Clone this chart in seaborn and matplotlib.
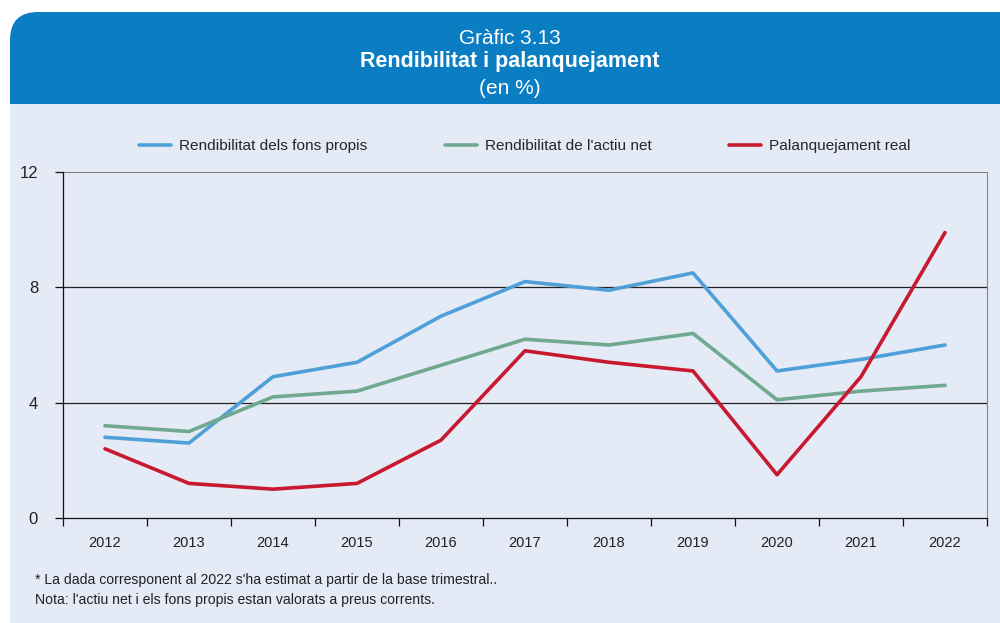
import numpy as np
import pandas as pd
import matplotlib
matplotlib.use('Agg')
from matplotlib import pyplot as plt
from matplotlib.patches import FancyBboxPatch, Rectangle
from matplotlib.lines import Line2D
from matplotlib.transforms import IdentityTransform
import seaborn as sns

# values (en %)
years = ['2012', '2013', '2014', '2015', '2016', '2017', '2018', '2019', '2020', '2021', '2022']
fons_propis = [2.8, 2.6, 4.9, 5.4, 7.0, 8.2, 7.9, 8.5, 5.1, 5.5, 6.0]
actiu_net = [3.2, 3.0, 4.2, 4.4, 5.3, 6.2, 6.0, 6.4, 4.1, 4.4, 4.6]
palanquejament = [2.4, 1.2, 1.0, 1.2, 2.7, 5.8, 5.4, 5.1, 1.5, 4.9, 9.9]

series_names = ['Rendibilitat dels fons propis', "Rendibilitat de l'actiu net", 'Palanquejament real']
colors = ['#4FA0D8', '#6FA98F', '#C8192F']

df = pd.DataFrame({'any': years * 3,
                   'valor': fons_propis + actiu_net + palanquejament,
                   'serie': [s for s in series_names for _ in years]})

sns.set_style('white')
plt.rcParams['font.family'] = ['Liberation Sans', 'DejaVu Sans']

bg = '#E4EAF6'
blue_head = '#0A7DC3'

fig = plt.figure(figsize=(10, 6.23), dpi=100)
fig.patch.set_facecolor('white')

# background panels (pixel coords, origin bottom-left)
H = 623
fig.patches.append(Rectangle((10, 0), 990, H - 104, transform=IdentityTransform(),
                             facecolor=bg, edgecolor='none', zorder=-2))
fig.patches.append(FancyBboxPatch((10, H - 104), 990, 92, boxstyle='round,pad=0,rounding_size=28',
                                  transform=IdentityTransform(), facecolor=blue_head,
                                  edgecolor='none', zorder=-1))
# square off the other corners
fig.patches.append(Rectangle((10, H - 104), 990, 40, transform=IdentityTransform(),
                             facecolor=blue_head, edgecolor='none', zorder=-1))
fig.patches.append(Rectangle((500, H - 104), 500, 92, transform=IdentityTransform(),
                             facecolor=blue_head, edgecolor='none', zorder=-1))

fig.text(0.51, 1 - 38 / H, 'Gràfic 3.13', ha='center', va='center', color='white', fontsize=15)
fig.text(0.51, 1 - 62 / H, 'Rendibilitat i palanquejament', ha='center', va='center',
         color='white', fontsize=15.5, fontweight='bold')
fig.text(0.51, 1 - 88 / H, '(en %)', ha='center', va='center', color='white', fontsize=15)

ax = fig.add_axes([0.063, (H - 518) / H, 0.924, (518 - 172) / H])
ax.set_zorder(2)
ax.set_facecolor(bg)

sns.lineplot(data=df, x='any', y='valor', hue='serie', palette=colors, hue_order=series_names,
             linewidth=2.6, ax=ax, legend=False, sort=False)

ax.set_xlim(-0.5, len(years) - 0.5)
ax.set_ylim(0, 12)
ax.set_yticks([0, 4, 8, 12])
ax.set_xlabel('')
ax.set_ylabel('')

for yv in [4, 8]:
    ax.axhline(yv, color='#222222', linewidth=0.9, zorder=0)
ax.axhline(12, color='#666666', linewidth=1.2, zorder=0)

ax.spines['top'].set_visible(False)
ax.spines['right'].set_color('#888888')
ax.spines['left'].set_color('#111111')
ax.spines['bottom'].set_color('#111111')
ax.spines['left'].set_linewidth(0.9)
ax.spines['bottom'].set_linewidth(0.9)

ax.set_xticks(np.arange(len(years)))
ax.set_xticklabels(years)
ax.set_xticks(np.arange(-0.5, len(years)), minor=True)
ax.tick_params(axis='x', which='major', length=0, pad=13, labelsize=10.5, labelcolor='#222222')
ax.tick_params(axis='x', which='minor', bottom=True, length=6, width=0.9, direction='out',
               color='#111111')
ax.tick_params(axis='y', length=6, width=0.9, direction='out', pad=12, labelsize=12,
               labelcolor='#222222', color='#111111', left=True)

handles = [Line2D([0], [0], color=c, linewidth=2.6) for c in colors]
fig.legend(handles, series_names, loc='center', bbox_to_anchor=(0.525, 1 - 146 / H), ncol=3,
           frameon=False, fontsize=11.1, handlelength=2.1, columnspacing=5.0, handletextpad=0.52)

fig.text(0.035, 1 - 580 / H, "* La dada corresponent al 2022 s'ha estimat a partir de la base trimestral..",
         ha='left', va='center', fontsize=10.1, color='#222222')
fig.text(0.035, 1 - 600 / H, "Nota: l'actiu net i els fons propis estan valorats a preus corrents.",
         ha='left', va='center', fontsize=10.1, color='#222222')

fig.savefig('out.png', dpi=100, facecolor=fig.get_facecolor())
